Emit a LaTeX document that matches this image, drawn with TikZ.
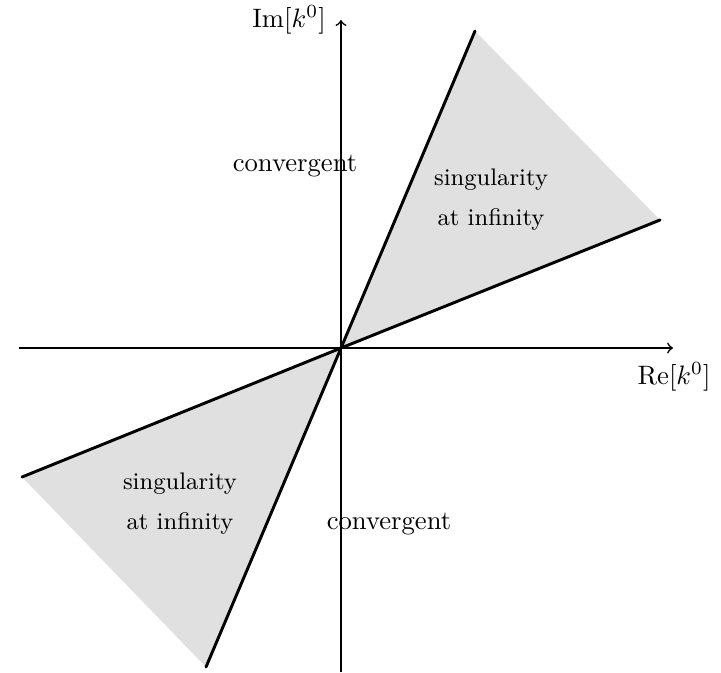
\documentclass[tikz,border=0pt]{standalone}
\begin{document}
\begin{tikzpicture}[x=0.375pt,y=-0.375pt,
  axis/.style={line width=0.6pt,->},
  ray/.style={line width=1.1pt,line cap=round},
  region/.style={fill=black!12,draw=none},
  lbl/.style={inner sep=0pt,font=\normalsize},
  sing/.style={inner sep=0pt,font=\small,align=center}]
\useasboundingbox (0,0) rectangle (721,672);
\coordinate (O) at (341,348);
\coordinate (A) at (475,31);
\coordinate (B) at (660,220);
\coordinate (C) at (22,477);
\coordinate (D) at (206,667);
\coordinate (xl) at (19,348);
\coordinate (xr) at (673,348);
\coordinate (yb) at (341,672);
\coordinate (yt) at (341,20);
\fill[region] (O) -- (A) -- (B) -- cycle;
\fill[region] (O) -- (C) -- (D) -- cycle;
\draw[axis] (xl) -- (xr);
\draw[axis] (yb) -- (yt);
\draw[ray] (O) -- (A);
\draw[ray] (O) -- (B);
\draw[ray] (O) -- (C);
\draw[ray] (O) -- (D);
\node[lbl] (im) at (289,20) {Im$[k^0]$};
\node[lbl] (re) at (674,377) {Re$[k^0]$};
\node[lbl] (cu) at (295,166) {convergent};
\node[lbl] (cl) at (389,524) {convergent};
\node[sing] (su) at (491,200) {singularity\\[4pt]at infinity};
\node[sing] (sl) at (180,504) {singularity\\[4pt]at infinity};
\end{tikzpicture}
\end{document}
